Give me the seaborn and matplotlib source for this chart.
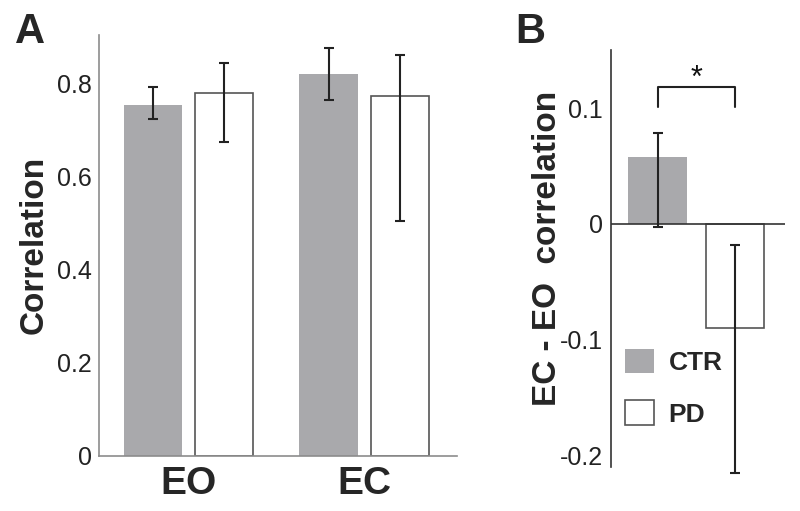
import numpy as np
import pandas as pd
import matplotlib
matplotlib.use("Agg")
import matplotlib.pyplot as plt
import seaborn as sns

# panel A: correlation per condition (bar = mean, error bar bounds)
conditions = ["EO", "EC"]
groups = ["CTR", "PD"]
ctr_mean = [0.755, 0.821]
ctr_lo = [0.725, 0.764]
ctr_hi = [0.793, 0.876]
pd_mean = [0.779, 0.774]
pd_lo = [0.674, 0.504]
pd_hi = [0.845, 0.862]

# panel B: EC - EO difference
diff_mean = [0.058, -0.090]
diff_lo = [-0.003, -0.215]
diff_hi = [0.079, -0.018]

a_yticks = [0, 0.2, 0.4, 0.6, 0.8]
a_ylabels = ["0", "0.2", "0.4", "0.6", "0.8"]
b_yticks = [-0.2, -0.1, 0, 0.1]
b_ylabels = ["-0.2", "-0.1", "0", "0.1"]

colores = {"CTR": "#a8a9ad", "PD": "white"}

sns.set_style("white")
plt.rcParams["font.family"] = ["Liberation Sans", "DejaVu Sans"]

fig = plt.figure(figsize=(8, 5.11), dpi=100)
ax_a = fig.add_axes([0.12375, 0.108, 0.4475, 0.823])
ax_b = fig.add_axes([0.76375, 0.0867, 0.2175, 0.8155])


def estilo_barras(ax):
    # gris sin borde, blanco con borde oscuro
    for patch in ax.containers[0].patches:
        patch.set_edgecolor("none")
    for patch in ax.containers[1].patches:
        patch.set_edgecolor("#555555")
        patch.set_linewidth(1.2)


def barras_error(ax, cont, medias, lo, hi):
    xs = [p.get_x() + p.get_width() / 2 for p in cont.patches]
    m = np.array(medias)
    yerr = [m - np.array(lo), np.array(hi) - m]
    eb = ax.errorbar(xs, m, yerr=yerr, fmt="none", ecolor="#222222",
                     elinewidth=1.5, capsize=3.6, capthick=1.5, zorder=5)
    # la barra de PD en B sale del eje
    for art in eb.get_children():
        art.set_clip_on(False)
    return xs


# ---- Panel A ----
df_a = pd.DataFrame({
    "condicion": conditions * 2,
    "grupo": ["CTR"] * 2 + ["PD"] * 2,
    "corr": ctr_mean + pd_mean,
})
sns.barplot(data=df_a, x="condicion", y="corr", hue="grupo", order=conditions,
            hue_order=groups, palette=colores, width=0.81, gap=0.18,
            errorbar=None, legend=False, ax=ax_a)
estilo_barras(ax_a)
barras_error(ax_a, ax_a.containers[0], ctr_mean, ctr_lo, ctr_hi)
barras_error(ax_a, ax_a.containers[1], pd_mean, pd_lo, pd_hi)

ax_a.set_xlim(-0.509, 1.528)
ax_a.set_ylim(0, 0.904)
ax_a.set_yticks(a_yticks)
ax_a.set_yticklabels(a_ylabels)
ax_a.set_xlabel("")
ax_a.set_ylabel("")
ax_a.tick_params(axis="y", direction="in", length=4, width=1, color="#888888",
                 pad=5, labelsize=18, labelcolor="#222222")
ax_a.tick_params(axis="x", length=0, pad=7)
for lab in ax_a.get_xticklabels():
    lab.set_fontsize(28)
    lab.set_fontweight("bold")
for s in ["top", "right"]:
    ax_a.spines[s].set_visible(False)
for s in ["left", "bottom"]:
    ax_a.spines[s].set_color("#8c8c8c")
    ax_a.spines[s].set_linewidth(1.2)

# ---- Panel B ----
df_b = pd.DataFrame({
    "medida": ["dif", "dif"],
    "grupo": groups,
    "corr": diff_mean,
})
sns.barplot(data=df_b, x="medida", y="corr", hue="grupo", hue_order=groups,
            palette=colores, width=0.891, gap=0.25, errorbar=None,
            legend=False, ax=ax_b)
estilo_barras(ax_b)
handles = [ax_b.containers[0].patches[0], ax_b.containers[1].patches[0]]
x_ctr = barras_error(ax_b, ax_b.containers[0], [diff_mean[0]], [diff_lo[0]], [diff_hi[0]])
x_pd = barras_error(ax_b, ax_b.containers[1], [diff_mean[1]], [diff_lo[1]], [diff_hi[1]])

ax_b.axhline(0, color="#333333", lw=1.2, zorder=4)
ax_b.set_xlim(-0.49, 0.51)
ax_b.set_ylim(-0.2098, 0.1504)
ax_b.set_yticks(b_yticks)
ax_b.set_yticklabels(b_ylabels)
ax_b.set_xticks([])
ax_b.set_xlabel("")
ax_b.set_ylabel("")
ax_b.tick_params(axis="y", direction="in", length=4, width=1, color="#333333",
                 pad=6, labelsize=18, labelcolor="#222222")
for s in ["top", "right", "bottom"]:
    ax_b.spines[s].set_visible(False)
ax_b.spines["left"].set_color("#333333")
ax_b.spines["left"].set_linewidth(1.2)

# corchete de significancia
bracket_top = 0.118
bracket_end = 0.101
ax_b.plot([x_ctr[0], x_ctr[0], x_pd[0], x_pd[0]],
          [bracket_end, bracket_top, bracket_top, bracket_end],
          color="#222222", lw=1.5)
ax_b.text((x_ctr[0] + x_pd[0]) / 2, 0.1185, "*", ha="center", va="baseline",
          fontsize=22, color="#111111")

ax_b.legend(handles=handles, labels=groups, loc="upper left",
            bbox_to_anchor=(625 / 800, 1 - 349 / 511), bbox_transform=fig.transFigure,
            frameon=False, borderpad=0, borderaxespad=0, handlelength=1.1,
            handleheight=1.05, handletextpad=0.55, labelspacing=0.95,
            prop={"weight": "bold", "size": 19})

# etiquetas de ejes y paneles
fig.text(34 / 800, 1 - 245 / 511, "Correlation", rotation=90, ha="center",
         va="center", fontsize=24, fontweight="bold")
fig.text(547 / 800, 1 - 248.5 / 511, "EC - EO  correlation", rotation=90,
         ha="center", va="center", fontsize=24, fontweight="bold")
fig.text(15 / 800, 1 - 43 / 511, "A", ha="left", va="baseline", fontsize=30,
         fontweight="bold")
fig.text(515 / 800, 1 - 43 / 511, "B", ha="left", va="baseline", fontsize=30,
         fontweight="bold")

fig.savefig("out.png", dpi=100)
